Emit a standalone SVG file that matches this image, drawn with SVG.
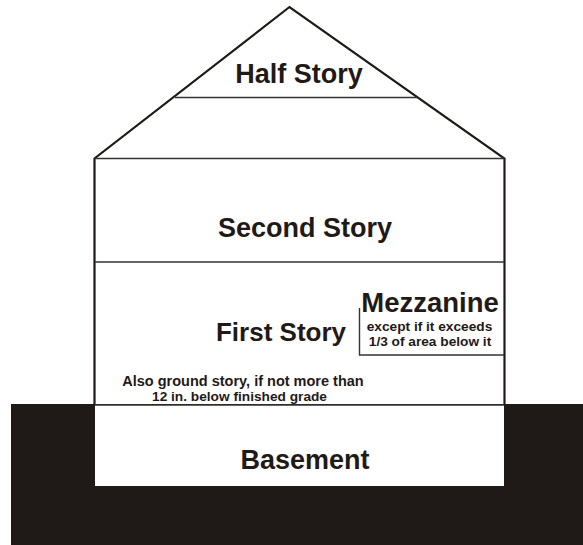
<svg xmlns="http://www.w3.org/2000/svg" width="583" height="545" viewBox="0 0 583 545">
<style>
.t{font-family:"Liberation Sans",Arial,sans-serif;font-weight:700;fill:#1f1a17;text-anchor:middle}
.b{font-size:27px}
.s{font-size:13.700px}
.l{stroke:#333;fill:none;stroke-width:1.4}
.h{stroke:#1f1a17;fill:none;stroke-width:2.200}
</style>
<rect width="583" height="545" fill="#fff"/>
<g id="ground"><path d="M11 404H583V545H11Z" fill="#1f1a17"/><rect x="95" y="405" width="409" height="81" fill="#fff"/></g>
<g id="connectors">
<path class="h" d="M94.500 405V158.500L289.500 7L504.500 158.500V405"/>
<path class="l" d="M94.500 158.500H504.500M175 97.500H417M95 262H504M95 405H504"/>
<path class="l" d="M359.500 308V355H504"/>
</g>
<g id="half-story"><text class="t b" x="299" y="83">Half Story</text></g>
<g id="second-story"><text class="t b" x="305" y="237">Second Story</text></g>
<g id="first-story"><text class="t" x="281" y="341" font-size="26">First Story</text>
<text class="t" x="243" y="386" font-size="14.500">Also ground story, if not more than</text>
<text class="t s" x="239.500" y="401">12 in. below finished grade</text></g>
<g id="mezzanine"><text class="t" x="430" y="311.500" font-size="27.500">Mezzanine</text>
<text class="t s" x="429.500" y="331">except if it exceeds</text>
<text class="t s" x="430" y="346">1/3 of area below it</text></g>
<g id="basement"><text class="t b" x="305" y="469">Basement</text></g>
</svg>
